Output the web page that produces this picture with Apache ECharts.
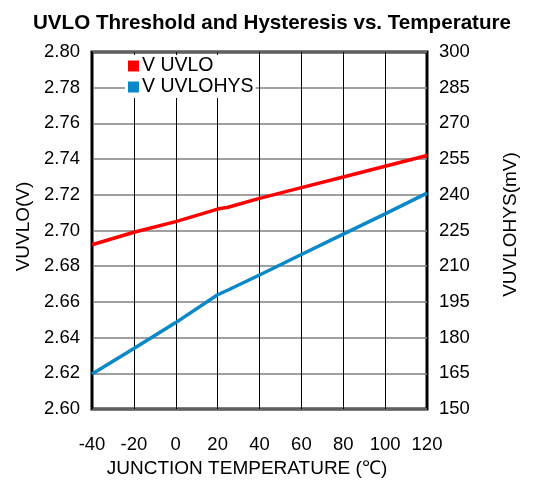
<!DOCTYPE html>
<html><head><meta charset="utf-8">
<script src="https://cdn.jsdelivr.net/npm/echarts@6/dist/echarts.min.js"></script>
<style>html,body{margin:0;padding:0;background:#fff;overflow:hidden}#c{width:544px;height:483px}</style>
</head><body><div id="c"></div>
<script>
const temps = [-40, -20, 0, 20, 25, 40, 60, 80, 100, 120];
const uvlo = [2.692, 2.699, 2.705, 2.712, 2.713, 2.718, 2.724, 2.730, 2.736, 2.742];
const uvloHys = [164.7, 175.4, 186.3, 198.0, 200.0, 206.3, 214.9, 223.5, 232.0, 240.7];
const seriesNames = ['V UVLO', 'V UVLOHYS'];
const titleText = 'UVLO Threshold and Hysteresis vs. Temperature';
const xName = 'JUNCTION TEMPERATURE (\u2103)';
const yLeftName = 'VUVLO(V)';
const yRightName = 'VUVLOHYS(mV)';

const FONT = 'Liberation Sans, Arial, sans-serif';
const chart = echarts.init(document.getElementById('c'), null, {renderer: 'canvas'});
chart.setOption({
  animation: false,
  backgroundColor: '#fff',
  title: {text: titleText, left: 'center', top: 8,
    textStyle: {fontFamily: FONT, fontSize: 20.6, fontWeight: 'bold', color: '#000'}},
  legend: {
    orient: 'vertical', left: 125, top: 55, itemWidth: 11, itemHeight: 11, itemGap: 1,
    icon: 'rect', backgroundColor: '#fff', padding: [1, 2, 1, 3],
    textStyle: {fontFamily: FONT, fontSize: 19.5, color: '#000', padding: [0, 0, 0, -2]},
    data: seriesNames
  },
  grid: {left: 92, width: 335, top: 52, height: 360, show: true,
    borderColor: '#000', borderWidth: 3, backgroundColor: 'transparent'},
  xAxis: {
    type: 'value', min: -40, max: 120, interval: 20,
    axisLine: {show: false}, axisTick: {show: false},
    axisLabel: {fontFamily: FONT, fontSize: 18.5, color: '#000', margin: 26},
    splitLine: {show: true, lineStyle: {color: '#000', width: 1}},
    name: xName, nameLocation: 'middle', nameGap: 50,
    nameTextStyle: {fontFamily: FONT, fontSize: 19, color: '#000', padding: [0, 25, 0, 0]}
  },
  yAxis: [{
    type: 'value', min: 2.6, max: 2.8, interval: 0.02,
    axisLine: {show: false}, axisTick: {show: false},
    axisLabel: {fontFamily: FONT, fontSize: 18.5, color: '#000', margin: 12,
      formatter: v => v.toFixed(2)},
    splitLine: {show: true, lineStyle: {color: '#808080', width: 1.5}},
    name: yLeftName, nameLocation: 'middle', nameGap: 57, nameRotate: 90,
    nameTextStyle: {fontFamily: FONT, fontSize: 19, color: '#000', padding: [0, 0, 0, 8]}
  }, {
    type: 'value', min: 150, max: 300, interval: 15,
    axisLine: {show: false}, axisTick: {show: false},
    axisLabel: {fontFamily: FONT, fontSize: 18.5, color: '#000', margin: 12},
    splitLine: {show: false},
    name: yRightName, nameLocation: 'middle', nameGap: 74, nameRotate: 90,
    nameTextStyle: {fontFamily: FONT, fontSize: 19, color: '#000', padding: [0, 0, 0, 12]}
  }],
  series: [{
    name: seriesNames[0], type: 'line', yAxisIndex: 0, showSymbol: false, smooth: false,
    itemStyle: {color: '#ff0000'}, lineStyle: {color: '#ff0000', width: 3.5},
    data: temps.map((t, i) => [t, uvlo[i]])
  }, {
    name: seriesNames[1], type: 'line', yAxisIndex: 1, showSymbol: false, smooth: false,
    itemStyle: {color: '#0a88c8'}, lineStyle: {color: '#0a88c8', width: 3.5},
    data: temps.map((t, i) => [t, uvloHys[i]])
  }]
});
</script></body></html>
